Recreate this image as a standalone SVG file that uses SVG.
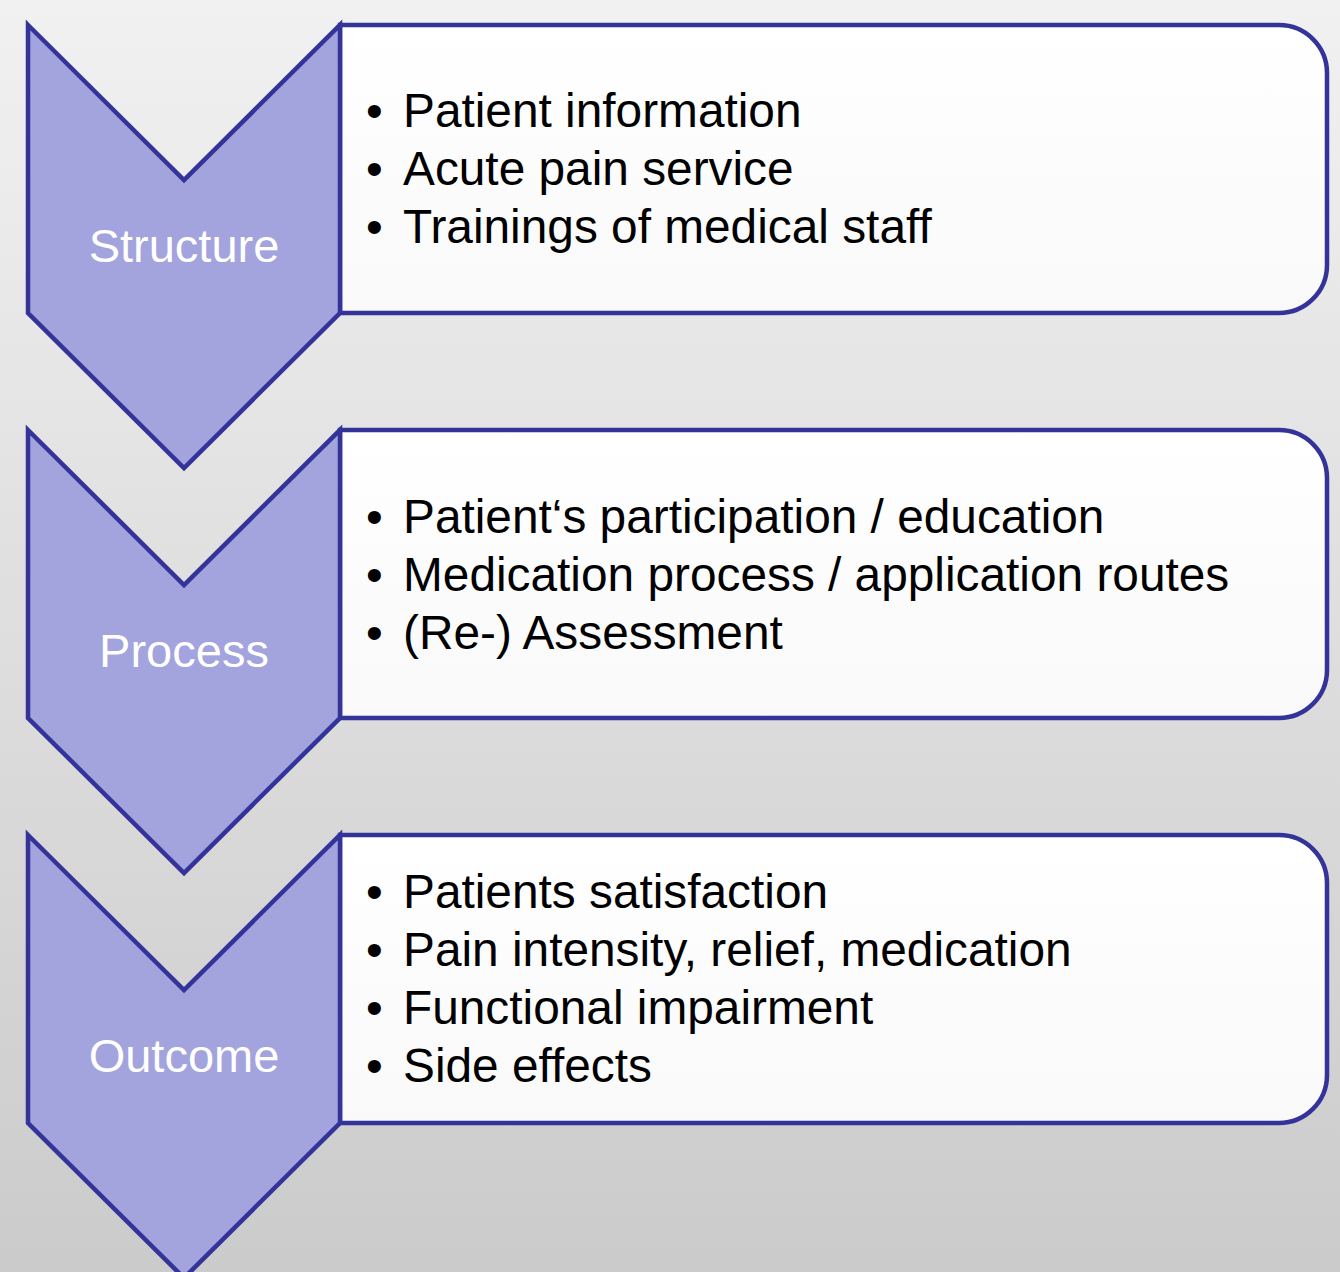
<svg xmlns="http://www.w3.org/2000/svg" width="1340" height="1272" viewBox="0 0 1340 1272">
  <defs>
    <linearGradient id="bg" x1="0" y1="0" x2="0" y2="1">
      <stop offset="0" stop-color="#f1f1f1"/>
      <stop offset="1" stop-color="#cbcbcb"/>
    </linearGradient>
    <linearGradient id="boxFill" x1="0" y1="0" x2="0" y2="1">
      <stop offset="0" stop-color="#ffffff"/>
      <stop offset="1" stop-color="#f9f9f9"/>
    </linearGradient>
    <!-- downward chevron, 312 wide, notch/point depth 155, side height 288 -->
    <polygon id="chev" points="28,0 184,155 340,0 340,288 184,443 28,288"/>
    <!-- content panel with rounded right corners -->
    <path id="panel" d="M340,0 H1279 A48,48 0 0 1 1327,48 V240 A48,48 0 0 1 1279,288 H340 Z"/>
  </defs>
  <style>
    .panel { fill: url(#boxFill); stroke: #333399; stroke-width: 4.5; }
    .chev { fill: #a3a3de; stroke: #333399; stroke-width: 4.5; stroke-linejoin: miter; }
    .label { font-family: "Liberation Sans", Arial, sans-serif; font-size: 47px; fill: #ffffff; text-anchor: middle; }
    .item { font-family: "Liberation Sans", Arial, sans-serif; font-size: 47.8px; fill: #000000; }
  </style>

  <rect x="0" y="0" width="1340" height="1272" fill="url(#bg)"/>

  <!-- no connectors: stages are stacked chevrons -->
  <g id="connectors"/>

  <g id="structure" transform="translate(0,25)">
    <use href="#panel" class="panel"/>
    <use href="#chev" class="chev"/>
    <text class="label" x="184" y="237">Structure</text>
    <g class="item">
      <text x="366" y="102">•</text><text x="403" y="102">Patient information</text>
      <text x="366" y="160">•</text><text x="403" y="160">Acute pain service</text>
      <text x="366" y="218">•</text><text x="403" y="218">Trainings of medical staff</text>
    </g>
  </g>

  <g id="process" transform="translate(0,430)">
    <use href="#panel" class="panel"/>
    <use href="#chev" class="chev"/>
    <text class="label" x="184" y="237">Process</text>
    <g class="item">
      <text x="366" y="103">•</text><text x="403" y="103">Patient‘s participation / education</text>
      <text x="366" y="161">•</text><text x="403" y="161">Medication process / application routes</text>
      <text x="366" y="219">•</text><text x="403" y="219">(Re-) Assessment</text>
    </g>
  </g>

  <g id="outcome" transform="translate(0,835)">
    <use href="#panel" class="panel"/>
    <use href="#chev" class="chev"/>
    <text class="label" x="184" y="237">Outcome</text>
    <g class="item">
      <text x="366" y="73">•</text><text x="403" y="73">Patients satisfaction</text>
      <text x="366" y="131">•</text><text x="403" y="131">Pain intensity, relief, medication</text>
      <text x="366" y="189">•</text><text x="403" y="189">Functional impairment</text>
      <text x="366" y="247">•</text><text x="403" y="247">Side effects</text>
    </g>
  </g>
</svg>
